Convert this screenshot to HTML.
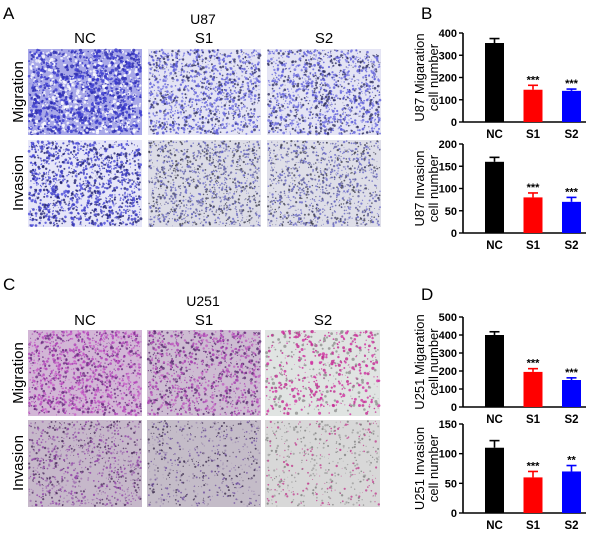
<!DOCTYPE html>
<html><head><meta charset="utf-8">
<style>
html,body{margin:0;padding:0;background:#fff;}
body{width:605px;height:536px;overflow:hidden;position:relative;font-family:"Liberation Sans",Arial,sans-serif;}
svg{position:absolute;left:0;top:0;}
</style></head>
<body>
<svg id="fig" width="605" height="536" viewBox="0 0 605 536" font-family="Liberation Sans, Arial, sans-serif">
  <text x="3" y="19" font-size="17">A</text>
  <text x="203" y="24" font-size="14" text-anchor="middle">U87</text>
  <text x="85" y="43" font-size="15" text-anchor="middle">NC</text>
  <text x="204" y="43" font-size="15" text-anchor="middle">S1</text>
  <text x="324" y="43" font-size="15" text-anchor="middle">S2</text>
  <text transform="translate(23,92) rotate(-90)" font-size="15" text-anchor="middle">Migration</text>
  <text transform="translate(23,183) rotate(-90)" font-size="15" text-anchor="middle">Invasion</text>

  <text x="3" y="290" font-size="17">C</text>
  <text x="203" y="306" font-size="14" text-anchor="middle">U251</text>
  <text x="85" y="325" font-size="15" text-anchor="middle">NC</text>
  <text x="204" y="325" font-size="15" text-anchor="middle">S1</text>
  <text x="323" y="325" font-size="15" text-anchor="middle">S2</text>
  <text transform="translate(23,373) rotate(-90)" font-size="15" text-anchor="middle">Migration</text>
  <text transform="translate(23,463) rotate(-90)" font-size="15" text-anchor="middle">Invasion</text>

  <text x="421" y="19" font-size="17">B</text>
  <text x="421" y="300" font-size="17">D</text>
  <g id="images"></g>
  <g id="charts"></g>
</svg>
<script>
// chart data
const categories = ["NC","S1","S2"];
const u87MigValues = [355,145,140];
const u87MigErr = [20,20,8];
const u87MigSig = ["","***","***"];
const u87MigTicks = [0,100,200,300,400];
const u87InvValues = [160,80,70];
const u87InvErr = [10,10,10];
const u87InvSig = ["","***","***"];
const u87InvTicks = [0,50,100,150,200];
const u251MigValues = [400,195,150];
const u251MigErr = [18,18,12];
const u251MigSig = ["","***","***"];
const u251MigTicks = [0,100,200,300,400,500];
const u251InvValues = [110,60,70];
const u251InvErr = [12,10,10];
const u251InvSig = ["","***","**"];
const u251InvTicks = [0,50,100,150];
const barColors = ["#000000","#ff0000","#0000ff"];

const NS="http://www.w3.org/2000/svg";
function mk(tag,attrs,parent){const e=document.createElementNS(NS,tag);for(const k in attrs)e.setAttribute(k,attrs[k]);parent.appendChild(e);return e;}

// microscopy textures (decorative, deterministic)
let seed=7;
function rnd(){seed=(seed*16807)%2147483647;return seed/2147483647;}
const imgG=document.getElementById('images');
const imgs=[
 {x:28,y:49,w:114,h:86,bg:"#a8a8e8",c:["#3a3ad0","#2a2ab0","#ffffff"],n:1600,r:1.4,name:"u87-nc-migration"},
 {x:148,y:49,w:113,h:86,bg:"#e4e4f4",c:["#5a5ad8","#303060","#7070e0"],n:1300,r:1.0,name:"u87-s1-migration"},
 {x:267,y:49,w:114,h:86,bg:"#e4e4f4",c:["#5a5ad8","#303060","#7070e0"],n:1250,r:1.0,name:"u87-s2-migration"},
 {x:28,y:140,w:114,h:87,bg:"#e6e6f8",c:["#3a3ac0","#202070","#4848d8"],n:1300,r:1.1,name:"u87-nc-invasion"},
 {x:148,y:140,w:113,h:87,bg:"#dcdce6",c:["#6060a0","#404050","#6868c8"],n:1200,r:0.8,name:"u87-s1-invasion"},
 {x:267,y:140,w:114,h:87,bg:"#dedee8",c:["#6060a0","#404050","#6868c8"],n:1100,r:0.8,name:"u87-s2-invasion"},
 {x:28,y:330,w:114,h:86,bg:"#d2b6d6",c:["#b040b8","#6a2a80","#c860c8"],n:1300,r:1.0,name:"u251-nc-migration"},
 {x:147,y:330,w:114,h:86,bg:"#cdbcd2",c:["#a840b0","#5a2a70","#c060c0"],n:1100,r:1.0,name:"u251-s1-migration"},
 {x:265,y:330,w:115,h:86,bg:"#e0e4e2",c:["#d030a0","#c02890","#909090"],n:600,r:1.2,name:"u251-s2-migration"},
 {x:28,y:420,w:114,h:87,bg:"#c6b8ca",c:["#9040a8","#503060","#a070b0"],n:900,r:0.8,name:"u251-nc-invasion"},
 {x:147,y:420,w:114,h:87,bg:"#c4bcc8",c:["#7050a0","#403050","#a090b0"],n:600,r:0.7,name:"u251-s1-invasion"},
 {x:265,y:420,w:115,h:87,bg:"#d8d8d8",c:["#c04090","#808080","#a0a0a0"],n:500,r:0.8,name:"u251-s2-invasion"}
];
imgs.forEach(im=>{
  const g=mk('g',{},imgG);
  
  
  mk('rect',{x:im.x,y:im.y,width:im.w,height:im.h,fill:im.bg},g);
  for(let i=0;i<im.n;i++){
    const cx=im.x+1+rnd()*(im.w-2), cy=im.y+1+rnd()*(im.h-2);
    const r=0.4+rnd()*im.r;
    mk('circle',{cx:cx.toFixed(1),cy:cy.toFixed(1),r:r.toFixed(1),fill:im.c[Math.floor(rnd()*3)],opacity:0.8},g);
  }
});

// bar charts
const chG=document.getElementById('charts');
function chart(opts){
  const {values,errs,sigs,ticks,top,bottom,title1,name}=opts;
  const g=mk('g',{},chG);
  
  
  const ax=463, axEnd=586, maxT=ticks[ticks.length-1];
  const y=v=>bottom-(v/maxT)*(bottom-top);
  const xc=i=>494.5+i*38.5;
  const bw=19;
  mk('line',{x1:ax,y1:top,x2:ax,y2:bottom,stroke:"#000","stroke-width":1.6},g);
  mk('line',{x1:ax,y1:bottom,x2:axEnd,y2:bottom,stroke:"#000","stroke-width":1.6},g);
  ticks.forEach(t=>{
    mk('line',{x1:ax-4,y1:y(t),x2:ax,y2:y(t),stroke:"#000","stroke-width":1.4},g);
    const tx=mk('text',{x:ax-6,y:y(t)+4,"font-size":11,"font-weight":"bold","text-anchor":"end"},g);
    tx.textContent=t;
    
    
  });
  values.forEach((v,i)=>{
    const b=mk('rect',{x:xc(i)-bw/2,y:y(v),width:bw,height:bottom-y(v),fill:barColors[i]},g);
    
    
    const ey=y(v+errs[i]);
    mk('line',{x1:xc(i),y1:y(v),x2:xc(i),y2:ey,stroke:barColors[i],"stroke-width":1.6},g);
    mk('line',{x1:xc(i)-5,y1:ey,x2:xc(i)+5,y2:ey,stroke:barColors[i],"stroke-width":1.6},g);
    if(sigs[i]){
      const s=mk('text',{x:xc(i),y:ey-2,"font-size":11,"font-weight":"bold","text-anchor":"middle"},g);
      s.textContent=sigs[i];
      
      
    }
    const l=mk('text',{x:xc(i),y:bottom+16,"font-size":11.5,"font-weight":"bold","text-anchor":"middle"},g);
    l.textContent=categories[i];
    
    
  });
  const mid=(top+bottom)/2;
  const t1=mk('text',{transform:`translate(424,${mid}) rotate(-90)`,"font-size":13,"text-anchor":"middle"},g);
  t1.textContent=title1;
  
  
  const t2=mk('text',{transform:`translate(438,${mid}) rotate(-90)`,"font-size":13,"text-anchor":"middle"},g);
  t2.textContent="cell number";
  
  
}
chart({values:u87MigValues,errs:u87MigErr,sigs:u87MigSig,ticks:u87MigTicks,top:33,bottom:122,title1:"U87 Migaration",name:"u87-migration-chart"});
chart({values:u87InvValues,errs:u87InvErr,sigs:u87InvSig,ticks:u87InvTicks,top:144,bottom:233,title1:"U87 Invasion",name:"u87-invasion-chart"});
chart({values:u251MigValues,errs:u251MigErr,sigs:u251MigSig,ticks:u251MigTicks,top:317,bottom:407,title1:"U251 Migaration",name:"u251-migration-chart"});
chart({values:u251InvValues,errs:u251InvErr,sigs:u251InvSig,ticks:u251InvTicks,top:424,bottom:513,title1:"U251 Invasion",name:"u251-invasion-chart"});
</script>
</body></html>
